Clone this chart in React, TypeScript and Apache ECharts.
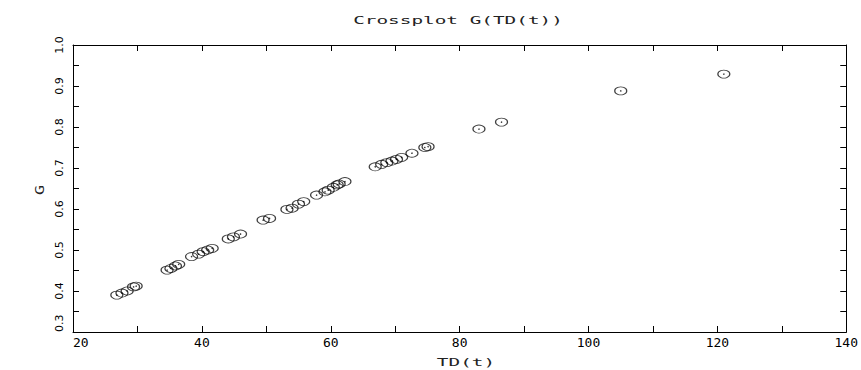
import React, { useEffect, useRef } from "react";
import * as echarts from "echarts";

const tdValues = [
  26.8, 27.6, 28.4, 29.4, 29.8,
  34.6, 35.2, 35.9, 36.4,
  38.4, 39.5, 40.2, 40.9, 41.6,
  44.1, 44.9, 46.0,
  49.5, 50.5,
  53.2, 54.0, 55.0, 55.8,
  57.8, 59.1, 59.6, 60.4, 61.0, 61.3, 62.2,
  66.9, 67.9, 68.7, 69.5, 70.2, 71.0, 72.6, 74.6, 75.1,
  83.0, 86.5, 105.0, 121.0,
];
const gValues = [
  0.390, 0.395, 0.400, 0.410, 0.412,
  0.451, 0.455, 0.461, 0.465,
  0.484, 0.490, 0.496, 0.500, 0.504,
  0.527, 0.532, 0.539,
  0.573, 0.577,
  0.599, 0.602, 0.612, 0.618,
  0.634, 0.642, 0.646, 0.653, 0.659, 0.661, 0.667,
  0.703, 0.709, 0.713, 0.717, 0.721, 0.726, 0.736, 0.750, 0.752,
  0.795, 0.812, 0.888, 0.929,
];
const titleText = "Crossplot G(TD(t))";
const xName = "TD(t)";
const yName = "G";
const xTicks = { min: 20, max: 140, interval: 20 };
const yTicks = { min: 0.3, max: 1.0, interval: 0.1 };

const FONT = "DejaVu Sans Mono";

export default function App() {
  const ref = useRef<HTMLDivElement>(null);
  useEffect(() => {
    if (!ref.current) return;
    const chart = echarts.init(ref.current, undefined, { renderer: "svg" });
    const pts = tdValues.map((x, i) => [x, gValues[i]]);
    const line = { show: true, lineStyle: { color: "#000", width: 1 } };
    const tick = { show: true, inside: true, length: 6, lineStyle: { color: "#000", width: 1 } };
    const minor = { show: true, splitNumber: 2, length: 6, lineStyle: { color: "#000", width: 1 } };
    chart.setOption({
      animation: false,
      backgroundColor: "#fff",
      grid: { left: 73, right: 14, top: 45, bottom: 38, show: false },
      xAxis: [
        {
          type: "value", ...xTicks, position: "bottom",
          axisLine: line, axisTick: tick, minorTick: minor,
          splitLine: { show: false },
          axisLabel: { color: "#000", fontFamily: FONT, fontSize: 13, margin: 4, alignMinLabel: "left" },
        },
        {
          type: "value", ...xTicks, position: "top",
          axisLine: line, axisTick: tick, minorTick: minor,
          splitLine: { show: false }, axisLabel: { show: false },
        },
      ],
      yAxis: [
        {
          type: "value", ...yTicks, position: "left",
          axisLine: line, axisTick: tick, minorTick: minor,
          splitLine: { show: false },
          axisLabel: {
            color: "#000", fontFamily: "DejaVu Sans", fontSize: 11,
            rotate: 90, margin: 14, align: "center", verticalAlign: "middle",
            alignMinLabel: "left",
            formatter: (v: number) => v.toFixed(1),
          },
        },
        {
          type: "value", ...yTicks, position: "right",
          axisLine: line, axisTick: tick, minorTick: minor,
          splitLine: { show: false }, axisLabel: { show: false },
        },
      ],
      graphic: [
        {
          type: "text", x: 458, y: 20, scaleX: 1.76, scaleY: 1,
          style: { text: titleText, fill: "#222", font: `11px "${FONT}"`, textAlign: "center", textVerticalAlign: "middle" },
        },
        {
          type: "text", x: 466, y: 362, scaleX: 1.76, scaleY: 1,
          style: { text: xName, fill: "#222", font: `11px "${FONT}"`, textAlign: "center", textVerticalAlign: "middle" },
        },
        {
          type: "text", x: 39, y: 190, rotation: Math.PI / 2, scaleX: 1.4,
          style: { text: yName, fill: "#222", font: `12px "${FONT}"`, textAlign: "center", textVerticalAlign: "middle" },
        },
      ],
      series: [
        {
          type: "scatter", data: pts, symbol: "circle", symbolSize: [12, 8],
          itemStyle: { color: "rgba(0,0,0,0)", borderColor: "#111", borderWidth: 1 },
          silent: true,
        },
        {
          type: "scatter", data: pts, symbol: "circle", symbolSize: 1.5,
          itemStyle: { color: "#000" }, silent: true,
        },
      ],
    });
    return () => chart.dispose();
  }, []);
  return <div ref={ref} style={{ width: 861, height: 370, position: "absolute", left: 0, top: 0 }} />;
}
